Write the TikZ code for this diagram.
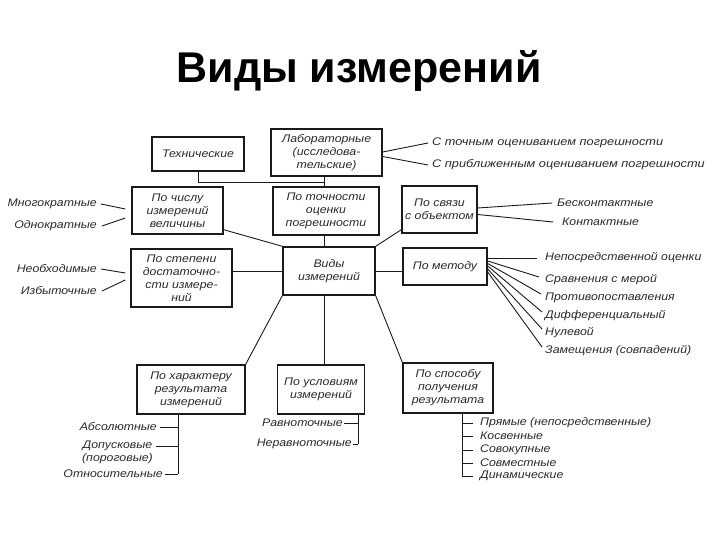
\documentclass[tikz,border=0pt]{standalone}
\usepackage{fontspec}
\setmainfont{Liberation Sans}
\newfontfamily\titlefont{Liberation Sans}
\newfontfamily\dfont{Liberation Sans Italic}[FakeStretch=1.12]
\newfontfamily\dfontw{Liberation Sans Italic}[FakeStretch=1.16]
\newcommand\dtext{\dfont\fontsize{11}{13}\selectfont}
\newcommand\dtextw{\dfontw\fontsize{11}{13}\selectfont}
\definecolor{ink}{HTML}{1A1A1A}
\definecolor{txt}{HTML}{2A2A2A}
\tikzset{
  box/.style={draw=ink, line width=1.4pt, inner sep=0pt, align=center, font=\dtext, text=txt},
  lbl/.style={inner sep=0pt, font=\dtext, text=txt},
  conn/.style={draw=ink, line width=0.9pt},
}
\begin{document}
\begin{tikzpicture}[x=1pt,y=-1pt]
\fill[white] (0,0) rectangle (720,540);
\useasboundingbox (0,0) rectangle (720,540);

\node[font=\titlefont\bfseries\fontsize{43}{43}\selectfont, anchor=base] (title) at (359,83) {Виды измерений};

% boxes
\node[box, minimum width=92pt, minimum height=34pt] (tech) at (198,154) {Технические};
\node[box, minimum width=111pt, minimum height=47pt] (lab) at (326.5,152.5) {Лабораторные\\(исследова-\\тельские)};
\node[box, minimum width=91pt, minimum height=47pt] (chislo) at (177.5,210.5) {По числу\\измерений\\величины};
\node[box, minimum width=106pt, minimum height=48pt] (toch) at (326,211) {По точности\\оценки\\погрешности};
\node[box, minimum width=75pt, minimum height=47pt] (svyaz) at (439.5,209.5) {По связи\\с объектом};
\node[box, minimum width=101pt, minimum height=58pt] (stepen) at (181.5,278) {По степени\\достаточно-\\сти измере-\\ний};
\node[box, minimum width=92pt, minimum height=48pt] (vidy) at (329,271) {Виды\\измерений};
\node[box, minimum width=84pt, minimum height=37pt] (metod) at (445,266.5) {По методу};
\node[box, minimum width=108pt, minimum height=49pt] (har) at (191,389.5) {По характеру\\результата\\измерений};
\node[box, minimum width=87pt, minimum height=49pt] (usl) at (321,389.5) {По условиям\\измерений};
\node[box, minimum width=90pt, minimum height=50pt] (spos) at (448,388) {По способу\\получения\\результата};

% spine
\coordinate (tj) at (324,182);
\draw[conn] (tech.south) |- (tj);
\draw[conn] (lab.south -| tj) -- (toch.north -| tj);
\draw[conn] (toch.south -| tj) -- (vidy.north -| tj);
\draw[conn] (vidy.south -| tj) -- (usl.north -| tj);
\draw[conn] ([yshift=5pt]chislo.south east) -- (vidy.north west);
\draw[conn] ([yshift=4pt]svyaz.south west) -- (vidy.north east);
\draw[conn] (vidy.west) -- (vidy.west -| stepen.east);
\draw[conn] (vidy.east) -- (vidy.east -| metod.west);
\draw[conn] (vidy.south west) -- (har.north east);
\draw[conn] (vidy.south east) -- (spos.north west);

% lab branches
\node[lbl, font=\dtextw, anchor=west] (l1) at (432,143) {С точным оцениванием погрешности};
\node[lbl, font=\dtextw, anchor=west] (l2) at (432,165) {С приближенным оцениванием погрешности};
\draw[conn] ([yshift=0.5pt]lab.east) -- ([xshift=-4pt]l1.west);
\draw[conn] ([yshift=-4pt]lab.east) -- ([xshift=-4pt]l2.west);

% svyaz branches
\node[lbl, anchor=west] (b1) at (557,203) {Бесконтактные};
\node[lbl, anchor=west] (b2) at (562,222) {Контактные};
\draw[conn] ([yshift=1.5pt]svyaz.east) -- ([xshift=-5pt]b1.west);
\draw[conn] ([yshift=-5pt]svyaz.east) -- ([xshift=-9pt]b2.west);

% left branches
\node[lbl, anchor=east] (m1) at (97,204) {Многократные};
\node[lbl, anchor=east] (m2) at (97,226) {Однократные};
\node[lbl, anchor=east] (n1) at (97,269) {Необходимые};
\node[lbl, anchor=east] (n2) at (97,291) {Избыточные};
\draw[conn] ([xshift=4pt]m1.east) -- ([xshift=-6pt,yshift=1.5pt]chislo.west);
\draw[conn] ([xshift=5pt]m2.east) -- ([xshift=-6pt,yshift=-7.5pt]chislo.west);
\draw[conn] ([xshift=4pt]n1.east) -- ([xshift=-5pt,yshift=5pt]stepen.west);
\draw[conn] ([xshift=5pt]n2.east) -- ([xshift=-5pt,yshift=-2pt]stepen.west);

% metod branches
\node[lbl, anchor=west] (t1) at (545,258) {Непосредственной оценки};
\node[lbl, anchor=west] (t2) at (545,280) {Сравнения с мерой};
\node[lbl, anchor=west] (t3) at (545,298) {Противопоставления};
\node[lbl, anchor=west] (t4) at (545,316) {Дифференциальный};
\node[lbl, anchor=west] (t5) at (545,333) {Нулевой};
\node[lbl, anchor=west] (t6) at (545,351) {Замещения (совпадений)};
\draw[conn] ([yshift=8.5pt]metod.east) -- ([xshift=-8pt]t1.west);
\draw[conn] ([yshift=5.5pt]metod.east) -- ([xshift=-6pt,yshift=3pt]t2.west);
\draw[conn] ([yshift=3pt]metod.east) -- ([xshift=-4pt,yshift=4pt]t3.west);
\draw[conn] ([yshift=0.5pt]metod.east) -- ([xshift=-3pt,yshift=4pt]t4.west);
\draw[conn] ([yshift=-2.5pt]metod.east) -- ([xshift=-3pt,yshift=4pt]t5.west);
\draw[conn] ([yshift=-5.5pt]metod.east) -- ([xshift=-3pt,yshift=4pt]t6.west);

% harakter tree
\coordinate (hj) at (178,0);
\node[lbl, anchor=east] (h1) at (157,427) {Абсолютные};
\node[lbl, anchor=east, align=center] (h2) at (153,452.5) {Допусковые\\(пороговые)};
\node[lbl, anchor=east] (h3) at (163,474) {Относительные};
\draw[conn] (har.south -| hj) -- (h3.east -| hj);
\draw[conn] ([xshift=3pt]h1.east) -- (h1.east -| hj);
\draw[conn] ([xshift=3pt,yshift=6pt]h2.east) -- ([yshift=6pt]h2.east -| hj);
\draw[conn] ([xshift=2pt]h3.east) -- (h3.east -| hj);

% usloviya tree
\coordinate (uj) at (358,0);
\node[lbl, anchor=east] (u1) at (343,423) {Равноточные};
\node[lbl, anchor=east] (u2) at (352,444) {Неравноточные};
\draw[conn] (usl.south -| uj) -- (u2.east -| uj);
\draw[conn] ([xshift=1pt]u1.east) -- (u1.east -| uj);
\draw[conn] ([xshift=1pt]u2.east) -- (u2.east -| uj);

% sposob tree
\coordinate (sj) at (462,0);
\node[lbl, anchor=west] (s1) at (480,423) {Прямые (непосредственные)};
\node[lbl, anchor=west] (s2) at (480,436) {Косвенные};
\node[lbl, anchor=west] (s3) at (480,450) {Совокупные};
\node[lbl, anchor=west] (s4) at (480,463) {Совместные};
\node[lbl, anchor=west] (s5) at (480,476) {Динамические};
\draw[conn] (spos.south -| sj) -- (s5.west -| sj);
\foreach \s in {s1,s2,s3,s4,s5}{
  \draw[conn] ([xshift=-7pt]\s.west) -- (\s.west -| sj);
}
\end{tikzpicture}
\end{document}
